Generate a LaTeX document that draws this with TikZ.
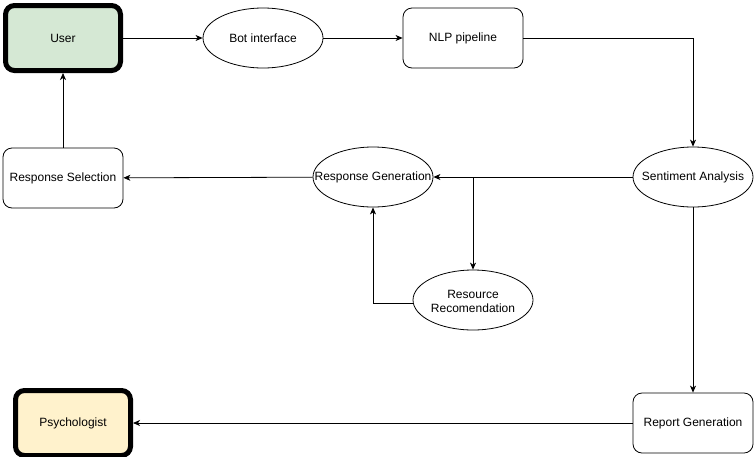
\documentclass[tikz,border=0pt]{standalone}
\usepackage{fontspec}
\setmainfont{Liberation Sans}
\usetikzlibrary{arrows.meta,shapes.geometric}
\definecolor{usergreen}{HTML}{D5E8D4}
\definecolor{psyyellow}{HTML}{FFF2CC}
\newcommand{\zw}[1]{\makebox[0pt][c]{#1}}
\begin{document}
\begin{tikzpicture}[x=1pt,y=-1pt,
  every node/.style={font=\fontsize{12}{14}\selectfont, align=center, inner sep=0pt},
  rbox/.style={draw, line width=0.8pt, rounded corners=9pt, minimum width=120pt, minimum height=60pt},
  thickbox/.style={draw, line width=5pt, rounded corners=9pt, minimum width=115pt, minimum height=65pt},
  ell/.style={draw, line width=0.8pt, ellipse, minimum width=120pt, minimum height=60pt},
  conn/.style={draw, line width=0.8pt, -{Stealth[length=7pt,width=6pt,inset=2pt]}},
  plain/.style={draw, line width=0.8pt}]
\useasboundingbox (0,0) rectangle (754,456);
\node[thickbox, fill=usergreen] (user) at (63,38) {User};
\node[ell] (bot) at (263,38) {\zw{Bot interface}};
\node[rbox] (nlp) at (463,38) {NLP pipeline};
\node[ell] (sent) at (693,177) {\zw{Sentiment Analysis}};
\node[ell] (rgen) at (373,177) {\zw{Response Generation}};
\node[rbox] (rsel) at (63,178) {Response Selection};
\node[ell] (res) at (473,300) {\zw{\raisebox{0pt}[\dimexpr\height+6pt\relax][\depth]{\begin{tabular}{@{}c@{}}Resource\\Recomendation\end{tabular}}}};
\node[rbox] (rep) at (693,423) {Report Generation};
\node[thickbox, fill=psyyellow] (psy) at (73,423) {Psychologist};
\coordinate (br) at (473,177);
\coordinate (nlpc) at (693,38);
\coordinate (resc) at (373,303);
\draw[conn] (user) -- (bot);
\draw[conn] (bot) -- (nlp);
\draw[conn] (nlp.east) -- (nlpc) -- (sent.north);
\draw[conn] (sent) -- (rgen);
\draw[conn] (br) -- (res.north);
\draw[conn] (res.west |- resc) -- (resc) -- (rgen.south);
\draw[conn] (rgen) -- (rsel);
\draw[conn] (rsel) -- (user);
\draw[conn] (sent) -- (rep);
\draw[conn] (rep) -- (psy);
\end{tikzpicture}
\end{document}
